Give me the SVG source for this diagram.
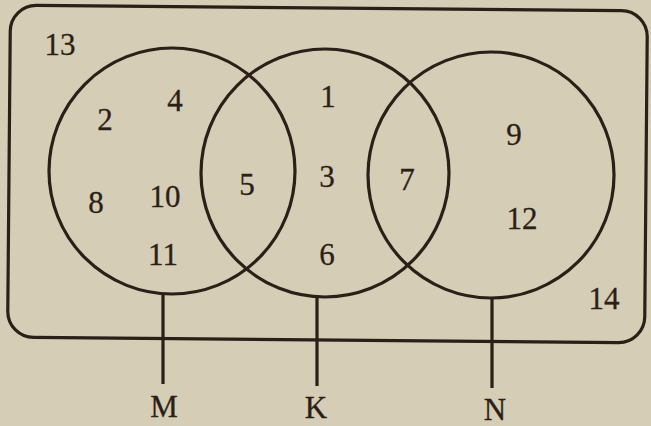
<svg xmlns="http://www.w3.org/2000/svg" width="651" height="426" viewBox="0 0 651 426">
<style>
.bg{fill:#d5cdb5}
.ln{fill:none;stroke:#2b1f17;stroke-width:3.2}
.t{font-family:"Liberation Serif","Times New Roman",serif;font-size:31px;fill:#2b1f17;text-anchor:middle;stroke:#2b1f17;stroke-width:0.3}
.lab{font-family:"Liberation Serif","Times New Roman",serif;font-size:31px;fill:#2b1f17;text-anchor:middle;stroke:#2b1f17;stroke-width:0.3}
</style>
<rect class="bg" x="0" y="0" width="651" height="426"/>
<g id="universe">
<rect class="ln" x="9" y="8" width="637" height="332" rx="26" transform="rotate(0.5 327 174)"/>
<text class="t" x="60" y="55">13</text>
<text class="t" x="604" y="309">14</text>
</g>
<g id="M">
<circle class="ln" cx="172" cy="171" r="123"/>
<text class="t" x="105" y="130">2</text>
<text class="t" x="175" y="111">4</text>
<text class="t" x="96" y="213">8</text>
<text class="t" x="165" y="207">10</text>
<text class="t" x="163" y="265">11</text>
<text class="lab" x="164" y="417">M</text>
</g>
<g id="K">
<circle class="ln" cx="325" cy="173" r="124"/>
<text class="t" x="247" y="195">5</text>
<text class="t" x="328" y="107">1</text>
<text class="t" x="327" y="187">3</text>
<text class="t" x="327" y="265">6</text>
<text class="lab" x="316" y="418">K</text>
</g>
<g id="N">
<circle class="ln" cx="491" cy="175" r="123"/>
<text class="t" x="407" y="190">7</text>
<text class="t" x="514" y="145">9</text>
<text class="t" x="522" y="229">12</text>
<text class="lab" x="495" y="420">N</text>
</g>
<g id="connectors">
<line class="ln" x1="163" y1="294" x2="163" y2="384"/>
<line class="ln" x1="317" y1="296" x2="317" y2="386"/>
<line class="ln" x1="492" y1="298" x2="492" y2="388"/>
</g>
</svg>
